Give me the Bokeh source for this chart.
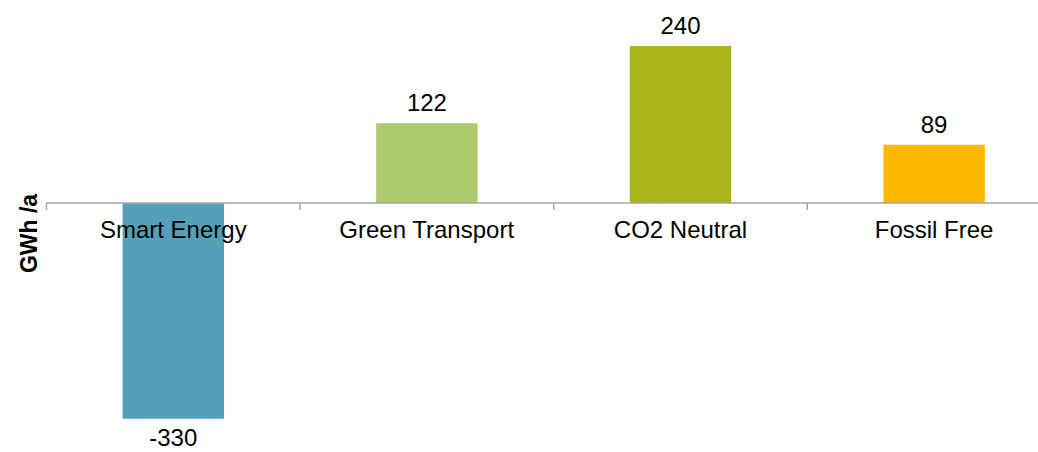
from bokeh.plotting import figure
from bokeh.models import Range1d, ColumnDataSource, Label
from bokeh.embed import file_html
from bokeh.resources import INLINE
from bokeh.core.properties import value

categories = ["Smart Energy", "Green Transport", "CO2 Neutral", "Fossil Free"]
values = [-330, 122, 240, 89]
colors = ["#55A0B9", "#ADC96C", "#A9B418", "#FFB900"]
y_label = "GWh /a"

FONT = "Liberation Sans"
px_per_cat = 253.6
px_per_unit = 0.654
W, H = 1038, 452
left_px = 46.0      # boundary of first category inside figure
zero_px = 202.5     # zero line from top of figure
BASE_FIX = -9.5     # svg alphabetic baseline correction

xs = [i + 0.5 for i in range(len(categories))]

p = figure(width=W, height=H, output_backend="svg", toolbar_location=None,
           x_range=Range1d(-left_px / px_per_cat, (W - left_px) / px_per_cat),
           y_range=Range1d(-(H - zero_px) / px_per_unit, zero_px / px_per_unit),
           min_border=0, outline_line_color=None)
p.axis.visible = False
p.grid.visible = False
p.background_fill_color = "white"
p.border_fill_color = "white"

src = ColumnDataSource(dict(x=xs, top=values, color=colors,
                            lab=[str(v) for v in values], cat=categories))
p.vbar(x="x", top="top", bottom=0, width=0.4, fill_color="color",
       line_color=None, source=src)

# zero axis line and ticks at category boundaries
n = len(categories)
p.segment(x0=[0], y0=[0], x1=[n + 0.5], y1=[0], line_color="#A6A6A6", line_width=1.5)
p.ray(x=list(range(n)), y=[0] * n, length=7, length_units="screen",
      angle=-1.5707963, line_color="#A6A6A6", line_width=1.5)

# value labels
pos_src = ColumnDataSource(dict(x=[x for x, v in zip(xs, values) if v >= 0],
                                y=[v for v in values if v >= 0],
                                t=[str(v) for v in values if v >= 0]))
neg_src = ColumnDataSource(dict(x=[x for x, v in zip(xs, values) if v < 0],
                                y=[v for v in values if v < 0],
                                t=[str(v) for v in values if v < 0]))
p.text(x="x", y="y", text="t", source=pos_src, text_align="center",
       text_baseline="alphabetic", y_offset=-11 + BASE_FIX, text_font=value(FONT),
       text_font_size="24px", text_color="black")
p.text(x="x", y="y", text="t", source=neg_src, text_align="center",
       text_baseline="alphabetic", y_offset=28.5 + BASE_FIX, text_font=value(FONT),
       text_font_size="24px", text_color="black")

# category labels just below the zero line
p.text(x="x", y=0, text="cat", source=src, text_align="center",
       text_baseline="alphabetic", y_offset=35.5 + BASE_FIX, text_font=value(FONT),
       text_font_size="24px", text_color="black")

# y axis label
p.add_layout(Label(x=-18 / px_per_cat, y=-30.5 / px_per_unit, text=y_label,
                   angle=1.5707963, text_align="center", text_baseline="middle",
                   text_font=FONT, text_font_size="23px", text_font_style="bold",
                   text_color="black"))

open("out.html", "w").write(file_html(p, INLINE))
